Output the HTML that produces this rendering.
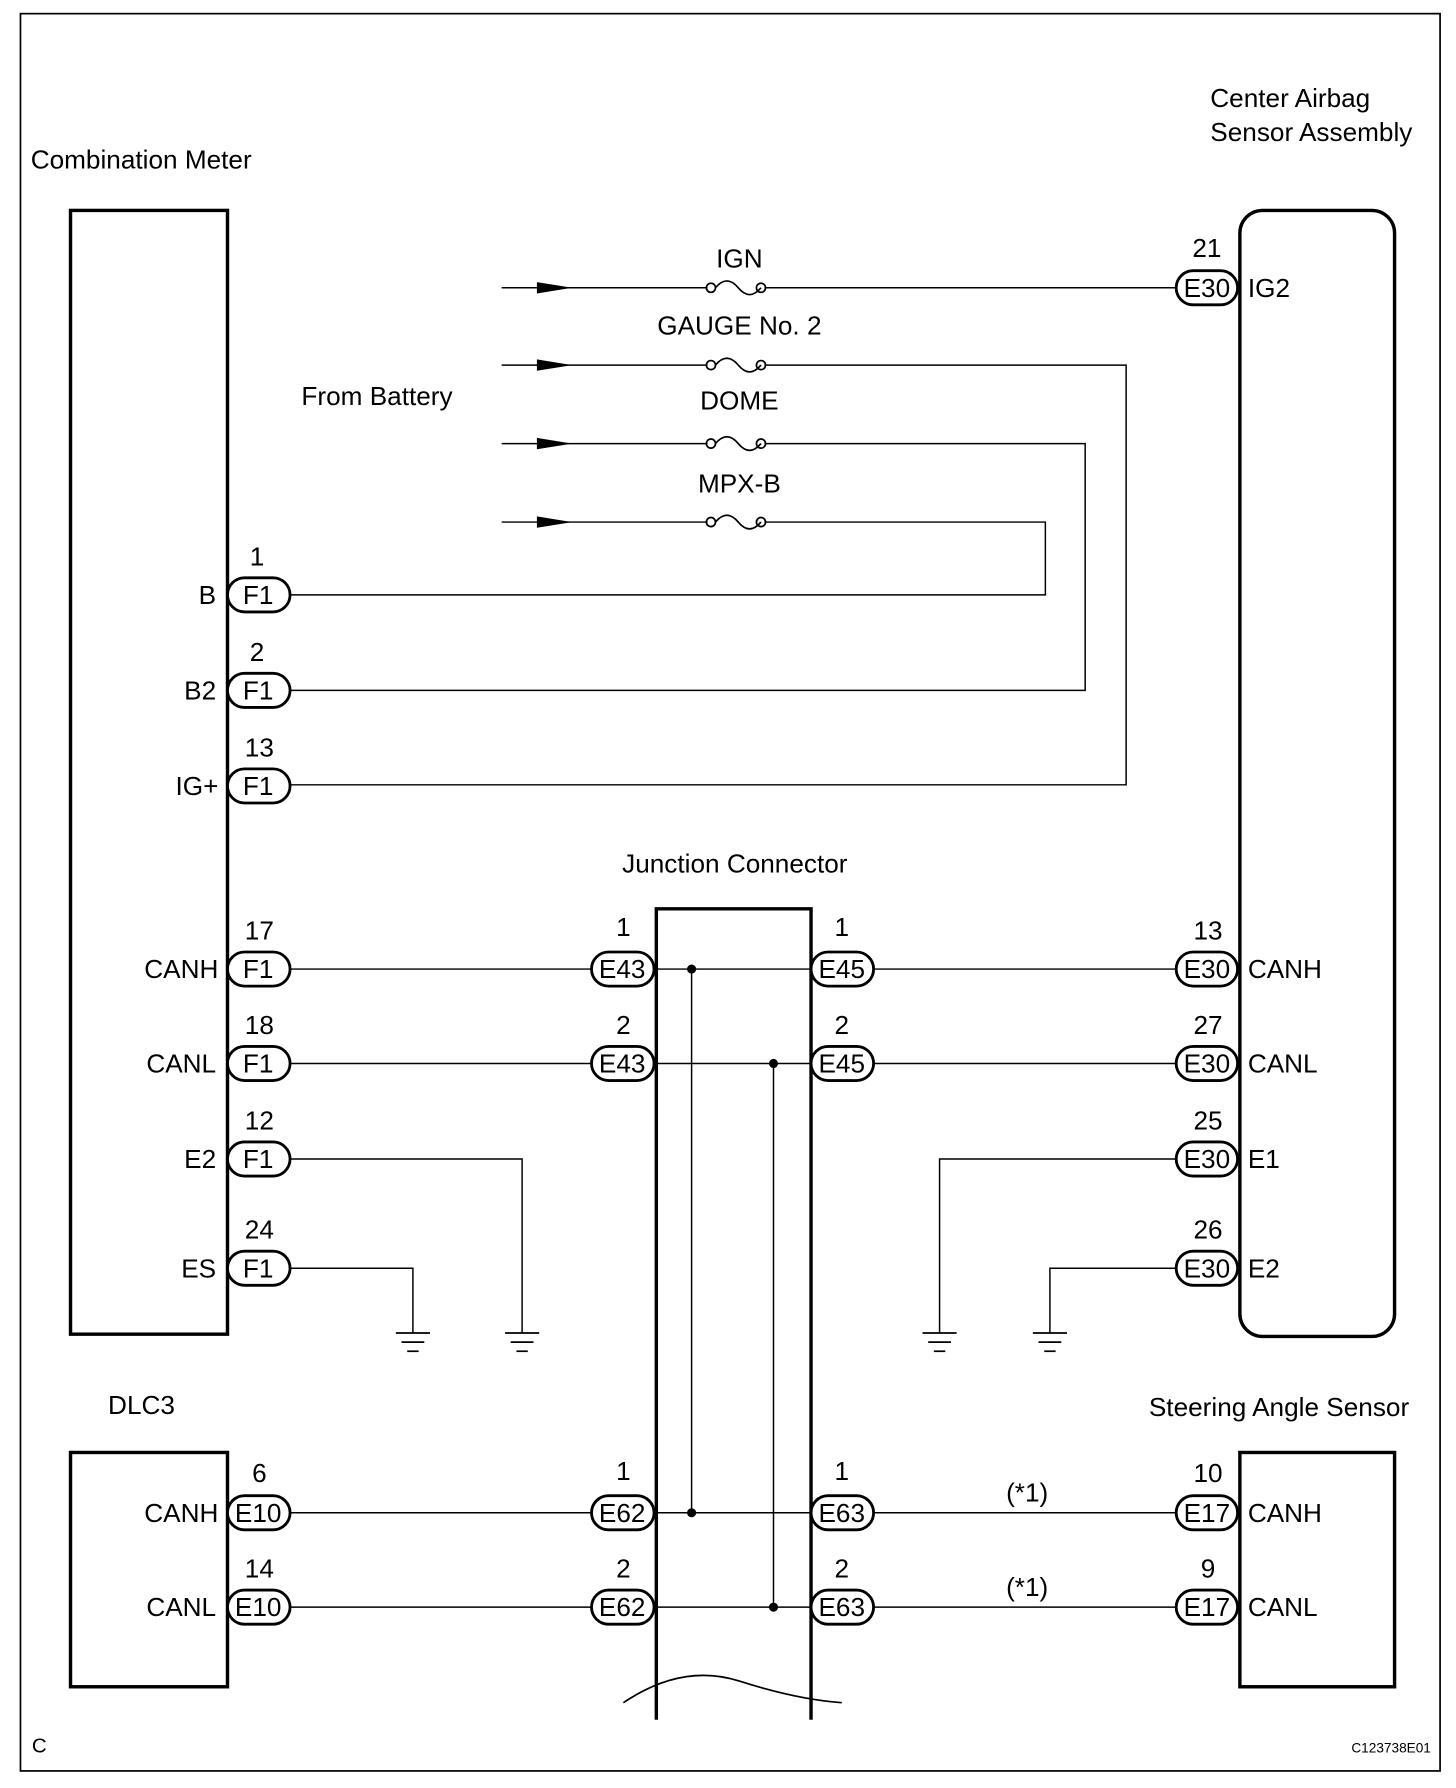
<!DOCTYPE html>
<html><head><style>html,body{margin:0;padding:0;background:#fff}svg{display:block}</style></head><body>
<svg width="1456" height="1788" viewBox="0 0 1280 1572" preserveAspectRatio="none" xmlns="http://www.w3.org/2000/svg" font-family="Liberation Sans, sans-serif" font-size="23">
<defs>
<g id="gnd" stroke="#000" stroke-width="1.5"><line x1="-15" y1="0" x2="15" y2="0"/><line x1="-10" y1="8" x2="10" y2="8"/><line x1="-5" y1="16" x2="5" y2="16"/></g>
<polygon id="arr" points="0,-5 31,0 0,5" fill="#000"/>
</defs>
<rect x="18" y="12" width="1248" height="1545" fill="none" stroke="#000" stroke-width="1.5"/>
<g fill="none" stroke="#000" stroke-width="3">
<rect x="62" y="185" width="138" height="988"/>
<rect x="1090" y="185" width="136" height="990" rx="20"/>
<rect x="62" y="1277" width="138" height="206"/>
<rect x="1090" y="1277" width="136" height="206"/>
<path d="M577,1512 V799 H713 V1512"/>
</g>
<path d="M548,1497 Q600,1462 650,1478 Q700,1494 740,1497" fill="none" stroke="#000" stroke-width="1.5"/>
<g stroke="#000" stroke-width="1.3" fill="none">
<path d="M441,253 H622 M672,253 H1034"/>
<path d="M441,321 H622 M672,321 H990 V690 H255"/>
<path d="M441,390 H622 M672,390 H954 V607 H255"/>
<path d="M441,459 H622 M672,459 H919 V523 H255"/>
<path d="M255,852 H520 M575,852 H713 M768,852 H1034"/>
<path d="M255,935 H520 M575,935 H713 M768,935 H1034"/>
<path d="M255,1019 H459 V1172"/>
<path d="M255,1115 H363 V1172"/>
<path d="M1034,1019 H826 V1172"/>
<path d="M1034,1115 H923 V1172"/>
<path d="M255,1330 H520 M575,1330 H713 M768,1330 H1034"/>
<path d="M255,1413 H520 M575,1413 H713 M768,1413 H1034"/>
<path d="M608,852 V1330 M680,935 V1413"/>
</g>
<g fill="#000"><circle cx="608" cy="852" r="4"/><circle cx="680" cy="935" r="4"/><circle cx="608" cy="1330" r="4"/><circle cx="680" cy="1413" r="4"/></g>
<use href="#arr" x="472" y="253"/><use href="#arr" x="472" y="321"/><use href="#arr" x="472" y="390"/><use href="#arr" x="472" y="459"/>
<g fill="none" stroke="#000" stroke-width="1.5">
<g id="fuse"><circle cx="625" cy="253" r="4"/><circle cx="669" cy="253" r="4"/><path d="M629,253 q10,-12 20,0 t20,0"/></g>
<use href="#fuse" y="68"/><use href="#fuse" y="137"/><use href="#fuse" y="206"/>
</g>
<use href="#gnd" x="363" y="1172"/><use href="#gnd" x="459" y="1172"/><use href="#gnd" x="826" y="1172"/><use href="#gnd" x="923" y="1172"/>
<g fill="#fff" stroke="#000" stroke-width="2.5">
<rect x="1034" y="238" width="54" height="30" rx="15"/>
<rect x="200" y="508" width="55" height="30" rx="15"/>
<rect x="200" y="592" width="55" height="30" rx="15"/>
<rect x="200" y="676" width="55" height="30" rx="15"/>
<rect x="200" y="837" width="55" height="30" rx="15"/>
<rect x="200" y="920" width="55" height="30" rx="15"/>
<rect x="200" y="1004" width="55" height="30" rx="15"/>
<rect x="200" y="1100" width="55" height="30" rx="15"/>
<rect x="520" y="837" width="55" height="30" rx="15"/>
<rect x="520" y="920" width="55" height="30" rx="15"/>
<rect x="713" y="837" width="55" height="30" rx="15"/>
<rect x="713" y="920" width="55" height="30" rx="15"/>
<rect x="1034" y="837" width="54" height="30" rx="15"/>
<rect x="1034" y="920" width="54" height="30" rx="15"/>
<rect x="1034" y="1004" width="54" height="30" rx="15"/>
<rect x="1034" y="1100" width="54" height="30" rx="15"/>
<rect x="200" y="1315" width="55" height="30" rx="15"/>
<rect x="200" y="1398" width="55" height="30" rx="15"/>
<rect x="520" y="1315" width="55" height="30" rx="15"/>
<rect x="520" y="1398" width="55" height="30" rx="15"/>
<rect x="713" y="1315" width="55" height="30" rx="15"/>
<rect x="713" y="1398" width="55" height="30" rx="15"/>
<rect x="1034" y="1315" width="54" height="30" rx="15"/>
<rect x="1034" y="1398" width="54" height="30" rx="15"/>
</g>
<g text-anchor="middle" fill="#000">
<text x="1061" y="261">E30</text>
<text x="227" y="531">F1</text><text x="227" y="615">F1</text><text x="227" y="699">F1</text>
<text x="227" y="860">F1</text><text x="227" y="943">F1</text><text x="227" y="1027">F1</text><text x="227" y="1123">F1</text>
<text x="547" y="860">E43</text><text x="547" y="943">E43</text>
<text x="740" y="860">E45</text><text x="740" y="943">E45</text>
<text x="1061" y="860">E30</text><text x="1061" y="943">E30</text><text x="1061" y="1027">E30</text><text x="1061" y="1123">E30</text>
<text x="227" y="1338">E10</text><text x="227" y="1421">E10</text>
<text x="547" y="1338">E62</text><text x="547" y="1421">E62</text>
<text x="740" y="1338">E63</text><text x="740" y="1421">E63</text>
<text x="1061" y="1338">E17</text><text x="1061" y="1421">E17</text>
<text x="1061" y="226">21</text>
<text x="226" y="497">1</text><text x="226" y="581">2</text><text x="228" y="665">13</text>
<text x="228" y="826">17</text><text x="228" y="909">18</text><text x="228" y="993">12</text><text x="228" y="1089">24</text>
<text x="548" y="823">1</text><text x="548" y="909">2</text><text x="740" y="823">1</text><text x="740" y="909">2</text>
<text x="1062" y="826">13</text><text x="1062" y="909">27</text><text x="1062" y="993">25</text><text x="1062" y="1089">26</text>
<text x="228" y="1303">6</text><text x="228" y="1387">14</text>
<text x="548" y="1301">1</text><text x="548" y="1387">2</text><text x="740" y="1301">1</text><text x="740" y="1387">2</text>
<text x="1062" y="1303">10</text><text x="1062" y="1387">9</text>
<text x="650" y="235">IGN</text><text x="650" y="294">GAUGE No. 2</text><text x="650" y="360">DOME</text><text x="650" y="433">MPX-B</text>
<text x="646" y="767">Junction Connector</text>
<text x="903" y="1320">(*1)</text><text x="903" y="1403">(*1)</text>
</g>
<g text-anchor="end" fill="#000">
<text x="190" y="531">B</text><text x="190" y="615">B2</text><text x="192" y="699">IG+</text>
<text x="192" y="860">CANH</text><text x="190" y="943">CANL</text><text x="190" y="1027">E2</text><text x="190" y="1123">ES</text>
<text x="192" y="1338">CANH</text><text x="190" y="1421">CANL</text>
</g>
<g fill="#000">
<text x="27" y="148">Combination Meter</text>
<text x="1064" y="94">Center Airbag</text><text x="1064" y="124">Sensor Assembly</text>
<text x="265" y="356">From Battery</text>
<text x="1097" y="261">IG2</text>
<text x="1097" y="860">CANH</text><text x="1097" y="943">CANL</text><text x="1097" y="1027">E1</text><text x="1097" y="1123">E2</text>
<text x="1097" y="1338">CANH</text><text x="1097" y="1421">CANL</text>
<text x="95" y="1243">DLC3</text>
<text x="1010" y="1245">Steering Angle Sensor</text>
<text x="28" y="1541" font-size="18">C</text>
<text x="1188" y="1541" font-size="12">C123738E01</text>
</g>
</svg>
</body></html>
